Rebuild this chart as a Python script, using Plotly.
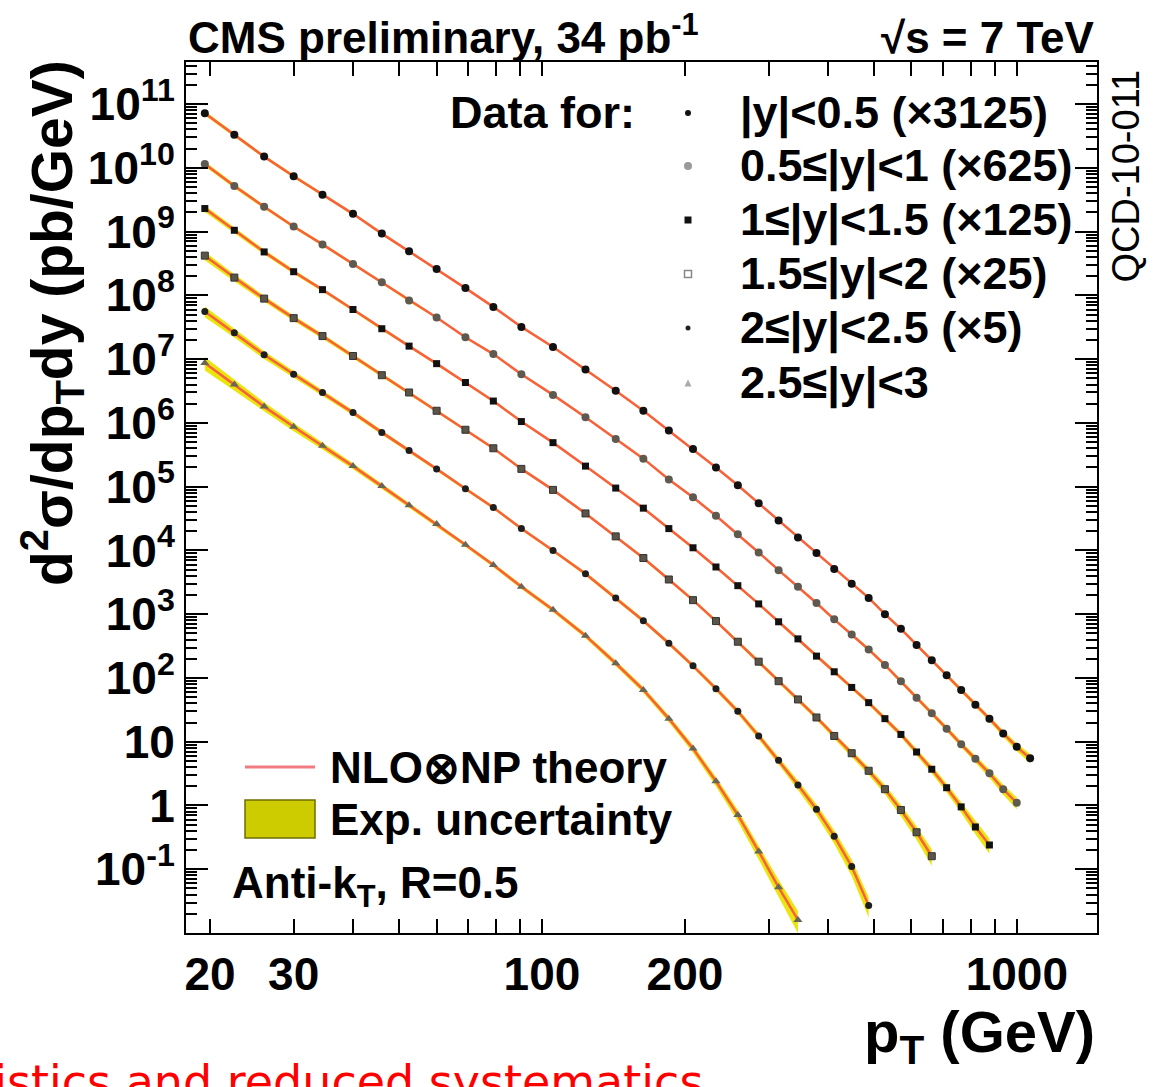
import plotly.graph_objects as go

# Jet pT bin centres (GeV)
pt_bins = [19.5, 22.5, 26, 30, 34.5, 40, 46, 52.5, 60, 69, 79, 90.5, 105.5, 123.5,
           143, 163.5, 185, 208, 232.5, 258.5, 286, 315, 346, 378.5, 412.5, 449,
           487.5, 527.5, 570, 615, 662, 711.5, 763.5, 818, 875.5, 936, 999.5, 1066.5]

# Scaled cross sections d2sigma/dpT dy (pb/GeV), one list per rapidity bin
xsec_y00_05 = [7.2e10, 3.3e10, 1.5e10, 7.4e9, 3.8e9, 1.9e9, 9.3e8, 4.9e8, 2.6e8, 1.3e8,
               6.6e7, 3.2e7, 1.55e7, 6.9e6, 3.2e6, 1.55e6, 7.6e5, 3.9e5, 2.0e5, 1.05e5,
               5.5e4, 2.95e4, 1.6e4, 9.1e3, 5.1e3, 3.0e3, 1.8e3, 1.0e3, 590, 330,
               190, 110, 65, 38, 23, 13.5, 8.3, 5.5]
xsec_y05_10 = [1.15e10, 5.2e9, 2.45e9, 1.2e9, 6.3e8, 3.1e8, 1.6e8, 8.3e7, 4.5e7, 2.2e7,
               1.2e7, 5.8e6, 2.75e6, 1.23e6, 5.6e5, 2.75e5, 1.3e5, 6.8e4, 3.5e4, 1.8e4,
               9.3e3, 4.9e3, 2.7e3, 1.5e3, 830, 480, 280, 160, 89, 49,
               28, 16, 9.1, 5.4, 3.2, 1.8, 1.1]
xsec_y10_15 = [2.3e9, 1.05e9, 4.8e8, 2.35e8, 1.23e8, 6.0e7, 3.0e7, 1.6e7, 8.5e6, 4.3e6,
               2.2e6, 1.05e6, 4.9e5, 2.1e5, 9.5e4, 4.6e4, 2.2e4, 1.1e4, 5.5e3, 2.8e3,
               1.45e3, 760, 410, 220, 125, 71, 41, 23, 13, 6.9,
               3.7, 1.9, 0.95, 0.46, 0.24]
xsec_y15_20 = [4.2e8, 1.9e8, 8.9e7, 4.4e7, 2.3e7, 1.12e7, 5.6e6, 3.0e6, 1.55e6, 7.8e5,
               4.0e5, 1.9e5, 8.9e4, 3.8e4, 1.66e4, 7.6e3, 3.5e3, 1.66e3, 780, 370,
               180, 89, 46, 24, 12.3, 6.6, 3.5, 1.8, 0.85, 0.38, 0.16]
xsec_y20_25 = [5.6e7, 2.6e7, 1.17e7, 5.8e6, 3.0e6, 1.45e6, 7.1e5, 3.7e5, 1.9e5, 9.3e4,
               4.7e4, 2.2e4, 1.0e4, 4.3e3, 1.8e3, 790, 350, 155, 68, 30,
               12.3, 5.1, 2.1, 0.87, 0.33, 0.11, 0.027]
xsec_y25_30 = [8.7e6, 4.0e6, 1.8e6, 8.7e5, 4.4e5, 2.1e5, 1.02e5, 5.1e4, 2.6e4, 1.23e4,
               5.9e3, 2.7e3, 1.17e3, 460, 170, 65, 23, 7.8, 2.4, 0.71,
               0.19, 0.052, 0.016]

# Relative experimental uncertainty (%) per point
unc_y00_05 = [8, 7, 6, 6, 5, 5, 5, 4, 4, 4, 4, 4, 4, 4, 4, 4, 4, 4, 4, 4, 4, 4, 4, 4,
              4, 5, 5, 5, 6, 6, 7, 7, 8, 9, 10, 12, 14, 17]
unc_y05_10 = [9, 8, 7, 6, 6, 5, 5, 5, 4, 4, 4, 4, 4, 4, 4, 4, 4, 4, 4, 4, 4, 4, 5, 5,
              5, 5, 6, 6, 7, 8, 9, 10, 11, 13, 15, 18, 21]
unc_y10_15 = [12, 10, 9, 8, 7, 6, 6, 5, 5, 5, 5, 4, 4, 4, 4, 4, 5, 5, 5, 5, 5, 6,
              6, 6, 7, 7, 8, 9, 10, 12, 14, 16, 19, 23, 27]
unc_y15_20 = [15, 13, 11, 10, 9, 8, 7, 6, 6, 5, 5, 5, 5, 5, 5, 6, 6, 6, 6, 7,
              7, 8, 8, 9, 10, 12, 14, 17, 20, 24, 29]
unc_y20_25 = [19, 16, 14, 12, 10, 9, 8, 7, 7, 6, 6, 6, 6, 7, 7, 7, 8, 8, 9,
              10, 12, 14, 17, 20, 24, 29, 35]
unc_y25_30 = [24, 20, 17, 15, 13, 11, 10, 9, 8, 8, 8, 8, 8, 9, 10, 11, 12, 14, 17,
              20, 25, 31, 38]

series_labels = ["|y|<0.5 (×3125)", "0.5≤|y|<1 (×625)", "1≤|y|<1.5 (×125)",
                 "1.5≤|y|<2 (×25)", "2≤|y|<2.5 (×5)", "2.5≤|y|<3"]
series_values = [xsec_y00_05, xsec_y05_10, xsec_y10_15, xsec_y15_20, xsec_y20_25, xsec_y25_30]
series_unc = [unc_y00_05, unc_y05_10, unc_y10_15, unc_y15_20, unc_y20_25, unc_y25_30]

y_tick_vals = [1e-1, 1, 10, 1e2, 1e3, 1e4, 1e5, 1e6, 1e7, 1e8, 1e9, 1e10, 1e11]
y_tick_text = ["10<sup>-1</sup>", "1", "10", "10<sup>2</sup>", "10<sup>3</sup>",
               "10<sup>4</sup>", "10<sup>5</sup>", "10<sup>6</sup>", "10<sup>7</sup>",
               "10<sup>8</sup>", "10<sup>9</sup>", "10<sup>10</sup>", "10<sup>11</sup>"]
x_tick_vals = [20, 30, 100, 200, 1000]
x_tick_text = ["20", "30", "100", "200", "1000"]

markers = [
    dict(symbol="circle", size=8, color="#111111"),
    dict(symbol="circle", size=8, color="#5e5a50"),
    dict(symbol="square", size=7, color="#111111"),
    dict(symbol="square", size=7, color="#5a5548", line=dict(width=1, color="#333333")),
    dict(symbol="circle", size=7, color="#1e1e1e"),
    dict(symbol="triangle-up", size=8, color="#6a6656"),
]

FONT = "Liberation Sans"
BAND = "rgba(232,228,0,0.95)"
THEORY = "#f9603e"

W, H = 1153, 1087
L, R, T, B = 186, 56, 62, 154
PW, PH = W - L - R, H - T - B


def px_x(px):
    return (px - L) / PW


def px_y(py):
    return (H - B - py) / PH


fig = go.Figure()

# uncertainty bands
for vals, unc in zip(series_values, series_unc):
    xs = pt_bins[:len(vals)]
    lo = [v * (1 - u / 100) for v, u in zip(vals, unc)]
    hi = [v * (1 + u / 100) for v, u in zip(vals, unc)]
    fig.add_trace(go.Scatter(x=xs, y=lo, mode="lines", line=dict(width=0, color=BAND),
                             showlegend=False, hoverinfo="skip"))
    fig.add_trace(go.Scatter(x=xs, y=hi, mode="lines", line=dict(width=0, color=BAND),
                             fill="tonexty", fillcolor=BAND, showlegend=False,
                             hoverinfo="skip"))

# theory curves
for vals in series_values:
    fig.add_trace(go.Scatter(x=pt_bins[:len(vals)], y=vals, mode="lines",
                             line=dict(color=THEORY, width=2.5), showlegend=False))

# data points
for name, vals, mk in zip(series_labels, series_values, markers):
    fig.add_trace(go.Scatter(x=pt_bins[:len(vals)], y=vals, mode="markers",
                             marker=mk, name=name, showlegend=False))

axis_common = dict(showline=True, linecolor="black", linewidth=2, mirror="ticks",
                   ticks="inside", tickcolor="black", tickwidth=2, showgrid=False,
                   zeroline=False)

minor_y = [k * 10 ** e for e in range(-2, 12) for k in range(2, 10) if k * 10 ** e < 4.5e11]
minor_x = [k * 10 ** e for e in (1, 2, 3) for k in range(1, 10)
           if 17.8 <= k * 10 ** e <= 1475 and k * 10 ** e not in x_tick_vals]

fig.update_layout(
    width=W, height=H,
    margin=dict(l=L, r=R, t=T, b=B),
    paper_bgcolor="white", plot_bgcolor="white",
    showlegend=False,
    font=dict(family=FONT, color="black", size=40),
    xaxis=dict(type="log", range=[1.2504, 3.1688], tickvals=x_tick_vals,
               ticktext=x_tick_text, ticklen=14,
               tickfont=dict(size=46, family=FONT, weight="bold"),
               minor=dict(tickvals=minor_x, ticklen=14, ticks="inside",
                          tickcolor="black", tickwidth=2),
               **axis_common),
    xaxis2=dict(type="log", range=[1.2504, 3.1688], overlaying="x", anchor="y",
                tickvals=[100, 1000], ticklen=26, showticklabels=False,
                ticks="inside", tickcolor="black", tickwidth=2, mirror="ticks",
                showline=False, showgrid=False, zeroline=False),
    yaxis=dict(type="log", range=[-2, 11.66], tickvals=y_tick_vals, ticktext=y_tick_text,
               ticklen=22, tickfont=dict(size=46, family=FONT, weight="bold"),
               minor=dict(tickvals=minor_y, ticklen=11, ticks="inside",
                          tickcolor="black", tickwidth=2),
               **axis_common),
)

ann_font = dict(family=FONT, color="black", size=44, weight="bold")
leg_font = dict(family=FONT, color="black", size=45, weight="bold")
legend_rows = [113, 166, 220, 274, 328, 383]

annotations = [
    dict(text="CMS preliminary, 34 pb<sup>-1</sup>", x=0, y=px_y(64), xanchor="left",
         yanchor="bottom", font=ann_font),
    dict(text="√s = 7 TeV", x=1, y=px_y(64), xanchor="right", yanchor="bottom",
         font=ann_font),
    dict(text="d<sup>2</sup>σ/dp<sub>T</sub>dy (pb/GeV)", x=px_x(52), y=px_y(58),
         xanchor="center", yanchor="top", textangle=-90,
         font=dict(family=FONT, color="black", size=57, weight="bold")),
    dict(text="p<sub>T</sub> (GeV)", x=px_x(1097), y=px_y(1036), xanchor="right",
         yanchor="middle", font=dict(family=FONT, color="black", size=58, weight="bold")),
    dict(text="QCD-10-011", x=px_x(1125), y=px_y(68), xanchor="center", yanchor="top",
         textangle=-90, font=dict(family=FONT, color="black", size=38)),
    dict(text="NLO⊗NP theory", x=px_x(328), y=px_y(767), xanchor="left",
         yanchor="middle", font=ann_font),
    dict(text="Exp. uncertainty", x=px_x(328), y=px_y(819), xanchor="left",
         yanchor="middle", font=ann_font),
    dict(text="Anti-k<sub>T</sub>, R=0.5", x=px_x(230), y=px_y(886), xanchor="left",
         yanchor="middle", font=ann_font),
    dict(text="Data for:", x=px_x(637), y=px_y(legend_rows[0]), xanchor="right",
         yanchor="middle", font=leg_font),
    dict(text="statistics and reduced systematics", x=px_x(705), y=px_y(1053),
         xanchor="right", yanchor="top",
         font=dict(family="DejaVu Sans", color="#ff0000", size=46, weight="normal")),
]
for label, row in zip(series_labels, legend_rows):
    annotations.append(dict(text=label, x=px_x(738), y=px_y(row), xanchor="left",
                            yanchor="middle", font=leg_font))
for a in annotations:
    a.update(xref="paper", yref="paper", showarrow=False)
fig.update_layout(annotations=annotations)


def dot(cx, cy, r, fill, line_color=None, kind="circle"):
    x0, x1 = px_x(cx - r), px_x(cx + r)
    y0, y1 = px_y(cy + r), px_y(cy - r)
    if kind == "triangle":
        path = (f"M{px_x(cx - r)},{px_y(cy + r)} L{px_x(cx + r)},{px_y(cy + r)} "
                f"L{px_x(cx)},{px_y(cy - r)} Z")
        return dict(type="path", xref="paper", yref="paper", path=path,
                    fillcolor=fill, line=dict(width=0))
    return dict(type=kind, xref="paper", yref="paper", x0=x0, x1=x1, y0=y0, y1=y1,
                fillcolor=fill,
                line=dict(color=line_color or fill, width=1.5 if line_color else 0))


legend_x = 688
shapes = [
    dot(legend_x, legend_rows[0], 3, "#111111"),
    dot(legend_x, legend_rows[1], 4, "#9a9a9a"),
    dot(legend_x, legend_rows[2], 3.5, "#111111", kind="rect"),
    dot(legend_x, legend_rows[3], 3.5, "white", line_color="#888888", kind="rect"),
    dot(legend_x, legend_rows[4], 2.5, "#222222"),
    dot(legend_x, legend_rows[5], 3.5, "#aaaaaa", kind="triangle"),
    dict(type="line", xref="paper", yref="paper", x0=px_x(245), x1=px_x(315),
         y0=px_y(767), y1=px_y(767), line=dict(color="#f07a80", width=3)),
    dict(type="rect", xref="paper", yref="paper", x0=px_x(245), x1=px_x(315),
         y0=px_y(838), y1=px_y(800), fillcolor="#cccc00",
         line=dict(color="#6e6e00", width=1.5)),
]
fig.update_layout(shapes=shapes)

fig.write_html("out.html")
